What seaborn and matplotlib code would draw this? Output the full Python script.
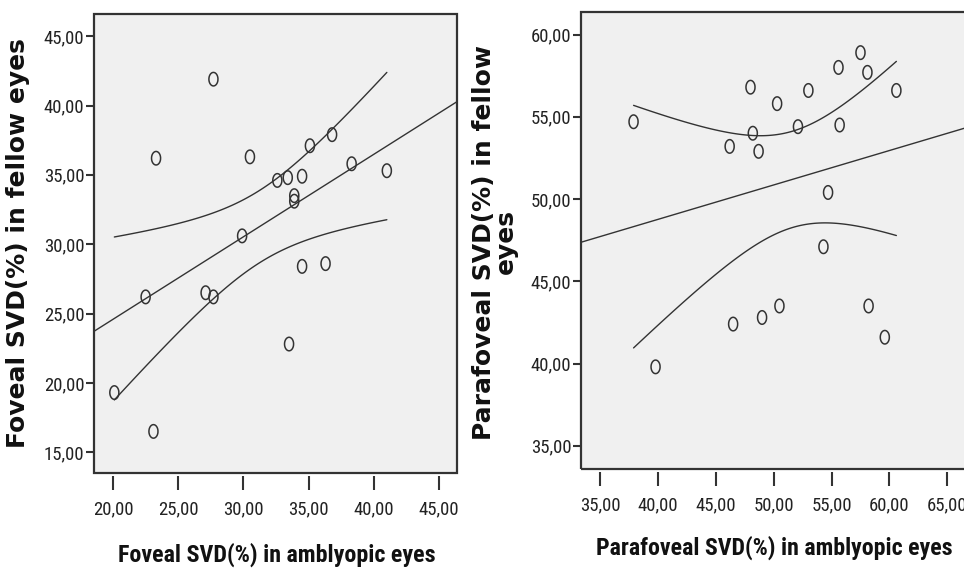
import numpy as np
import pandas as pd
import matplotlib
matplotlib.use("Agg")
import matplotlib.pyplot as plt
import seaborn as sns
from matplotlib.patches import Rectangle
from matplotlib.ticker import FuncFormatter, MultipleLocator

# foveal SVD (%) - amblyopic vs fellow eyes
foveal_amb = [27.7, 23.3, 30.5, 32.6, 33.4, 34.5, 33.9, 33.9, 35.1, 36.8, 38.3,
              41.0, 29.9, 34.5, 36.3, 22.5, 27.1, 27.7, 33.5, 20.1, 23.1]
foveal_fel = [41.9, 36.2, 36.3, 34.6, 34.8, 34.9, 33.5, 33.1, 37.1, 37.9, 35.8,
              35.3, 30.6, 28.4, 28.6, 26.2, 26.5, 26.2, 22.8, 19.3, 16.5]

# parafoveal SVD (%) - amblyopic vs fellow eyes
para_amb = [37.9, 48.0, 50.3, 53.0, 55.6, 57.5, 58.1, 60.6, 46.2, 48.2, 48.7,
            52.1, 55.7, 54.7, 54.3, 39.8, 46.5, 49.0, 50.5, 58.2, 59.6]
para_fel = [54.7, 56.8, 55.8, 56.6, 58.0, 58.9, 57.7, 56.6, 53.2, 54.0, 52.9,
            54.4, 54.5, 50.4, 47.1, 39.8, 42.4, 42.8, 43.5, 43.5, 41.6]

foveal_yticks = [15, 20, 25, 30, 35, 40, 45]
para_yticks = [35, 40, 45, 50, 55, 60]

T_CRIT = 2.093  # t(0.975, df=19)
INK = "#333333"
NARROW = ["Roboto Condensed", "Archivo Narrow", "DejaVu Sans"]

sns.set_style("white")
plt.rcParams["font.family"] = NARROW

theta = np.linspace(0, 2 * np.pi, 41)
oval = list(zip(0.67 * np.cos(theta), np.sin(theta)))


def comma_fmt(v, pos):
    return f"{v:.2f}".replace(".", ",")


def fit_and_ci(x, y, xlim):
    # least squares line over the whole axis, 95% CI of the mean over the data range
    x = np.asarray(x, float)
    y = np.asarray(y, float)
    n = len(x)
    b, a = np.polyfit(x, y, 1)
    s = np.sqrt(((y - (a + b * x)) ** 2).sum() / (n - 2))
    xm = x.mean()
    sxx = ((x - xm) ** 2).sum()
    xl = np.array(xlim)
    xs = np.linspace(x.min(), x.max(), 120)
    half = T_CRIT * s * np.sqrt(1 / n + (xs - xm) ** 2 / sxx)
    fit = pd.DataFrame({"x": xl, "y": a + b * xl})
    lo = pd.DataFrame({"x": xs, "y": a + b * xs - half})
    hi = pd.DataFrame({"x": xs, "y": a + b * xs + half})
    return fit, lo, hi


def draw_panel(ax, x, y, xlim, ylim, yticks):
    ax.set_facecolor("#f0f0f0")
    fit, lo, hi = fit_and_ci(x, y, xlim)
    for d in (fit, lo, hi):
        sns.lineplot(data=d, x="x", y="y", ax=ax, color=INK, lw=1.0,
                     estimator=None, sort=False)
    sns.scatterplot(x=x, y=y, ax=ax, marker=oval, s=95, facecolor="none",
                    edgecolor=INK, linewidth=1.1, zorder=3)
    ax.set_xlim(xlim)
    ax.set_ylim(ylim)
    ax.set_yticks(yticks)
    ax.xaxis.set_major_locator(MultipleLocator(5))
    ax.xaxis.set_major_formatter(FuncFormatter(comma_fmt))
    ax.yaxis.set_major_formatter(FuncFormatter(comma_fmt))
    for sp in ax.spines.values():
        sp.set_visible(False)
    ax.spines["bottom"].set_position(("outward", 2.5))
    ax.add_patch(Rectangle((0, 0), 1, 1, transform=ax.transAxes, fill=False,
                           lw=1.6, edgecolor=INK, clip_on=False, zorder=5))
    ax.tick_params(axis="y", direction="out", length=6, width=1.5, pad=1,
                   labelsize=13.5, color=INK, labelcolor="#222222", left=True)
    ax.tick_params(axis="x", direction="out", length=10, width=1.5, pad=7,
                   labelsize=13.5, color=INK, labelcolor="#222222", bottom=True)
    ax.set_xlabel("")
    ax.set_ylabel("")


fig = plt.figure(figsize=(9.64, 5.69), dpi=100)
ax1 = fig.add_axes([94 / 964, 96 / 569, 363 / 964, 459 / 569])
ax2 = fig.add_axes([581 / 964, 100 / 569, 394 / 964, 457 / 569])

draw_panel(ax1, foveal_amb, foveal_fel, (18.54, 46.38), (13.5, 46.6), foveal_yticks)
draw_panel(ax2, para_amb, para_fel, (33.36, 67.39), (33.59, 61.37), para_yticks)

fig.text(277 / 964, 1 - 555 / 569, "Foveal SVD(%) in amblyopic eyes",
         ha="center", va="center", fontsize=17.3, fontweight="bold", color="#111111")
fig.text(774 / 964, 1 - 548 / 569, "Parafoveal SVD(%) in amblyopic eyes",
         ha="center", va="center", fontsize=17.2, fontweight="bold", color="#111111")
fig.text(18 / 964, 1 - 243.5 / 569, "Foveal SVD(%) in fellow eyes", rotation=90,
         ha="center", va="center", fontsize=18, fontweight="bold",
         family="DejaVu Sans", color="#111111")
fig.text(495 / 964, 1 - 242 / 569, "Parafoveal SVD(%) in fellow\neyes", rotation=90,
         ha="center", va="center", fontsize=18, fontweight="bold",
         family="DejaVu Sans", color="#111111", linespacing=0.9,
         multialignment="center")

fig.savefig("out.png", dpi=100, facecolor="white")
